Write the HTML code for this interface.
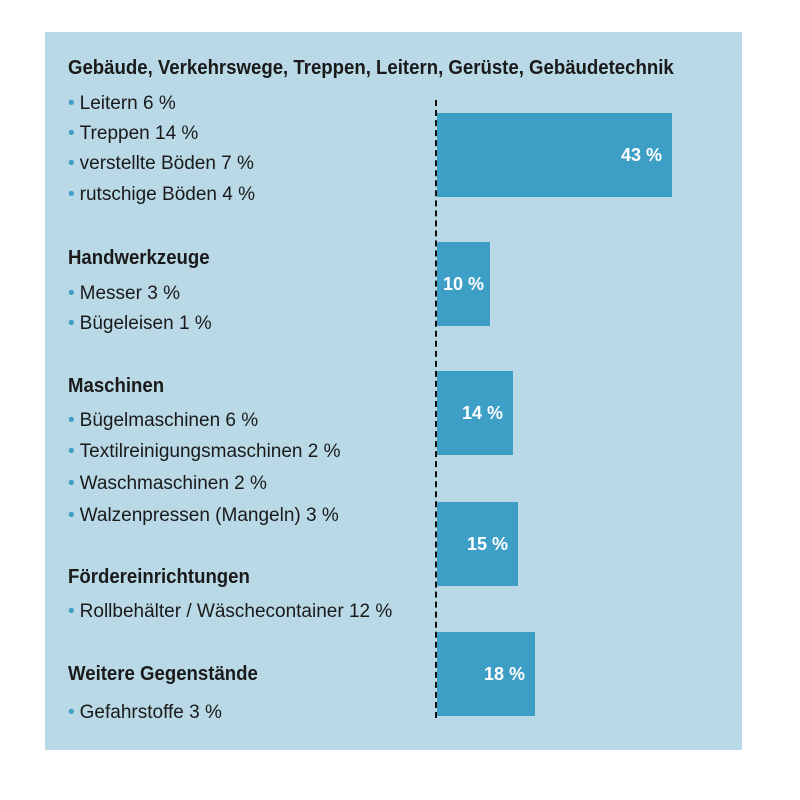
<!DOCTYPE html>
<html><head><meta charset="utf-8"><style>
body{margin:0;width:800px;height:800px;background:#fff;position:relative;overflow:hidden;font-family:"Liberation Sans Narrow","Liberation Sans",sans-serif;color:#1a1a1a}
#p{position:absolute;left:45px;top:32px;width:697px;height:718px;background:#b9d9e6}
.t{position:absolute;left:68px;height:30px;line-height:30px;white-space:nowrap;font-size:19px;transform-origin:left center}
.h{font-weight:bold;font-size:20px;transform:scaleX(0.93)}
.b{color:#3d9ec6;margin-right:5px}
.bar{position:absolute;left:437px;background:#3d9ec6;color:#fff;font-weight:bold;font-size:18px;text-align:right;box-sizing:border-box;padding-right:10px;line-height:84px;height:84px}
#d{position:absolute;left:435px;top:100px;height:618px;border-left:2px dashed #111}
</style></head><body>
<div id="p"></div>
<div id="d"></div>
<div class="bar" style="top:113px;width:235px">43 %</div>
<div class="bar" style="top:242px;width:53px;padding-right:6px">10 %</div>
<div class="bar" style="top:371px;width:76px">14 %</div>
<div class="bar" style="top:502px;width:81px">15 %</div>
<div class="bar" style="top:632px;width:98px">18 %</div>
<div class="t h" style="top:53px">Gebäude, Verkehrswege, Treppen, Leitern, Gerüste, Gebäudetechnik</div>
<div class="t" style="top:89px"><span class="b">•</span>Leitern 6 %</div>
<div class="t" style="top:119px"><span class="b">•</span>Treppen 14 %</div>
<div class="t" style="top:149px"><span class="b">•</span>verstellte Böden 7 %</div>
<div class="t" style="top:180px"><span class="b">•</span>rutschige Böden 4 %</div>
<div class="t h" style="top:243px">Handwerkzeuge</div>
<div class="t" style="top:279px"><span class="b">•</span>Messer 3 %</div>
<div class="t" style="top:309px"><span class="b">•</span>Bügeleisen 1 %</div>
<div class="t h" style="top:371px">Maschinen</div>
<div class="t" style="top:406px"><span class="b">•</span>Bügelmaschinen 6 %</div>
<div class="t" style="top:437px"><span class="b">•</span>Textilreinigungsmaschinen 2 %</div>
<div class="t" style="top:469px"><span class="b">•</span>Waschmaschinen 2 %</div>
<div class="t" style="top:501px"><span class="b">•</span>Walzenpressen (Mangeln) 3 %</div>
<div class="t h" style="top:562px">Fördereinrichtungen</div>
<div class="t" style="top:597px"><span class="b">•</span>Rollbehälter / Wäschecontainer 12 %</div>
<div class="t h" style="top:659px">Weitere Gegenstände</div>
<div class="t" style="top:698px"><span class="b">•</span>Gefahrstoffe 3 %</div>
</body></html>
